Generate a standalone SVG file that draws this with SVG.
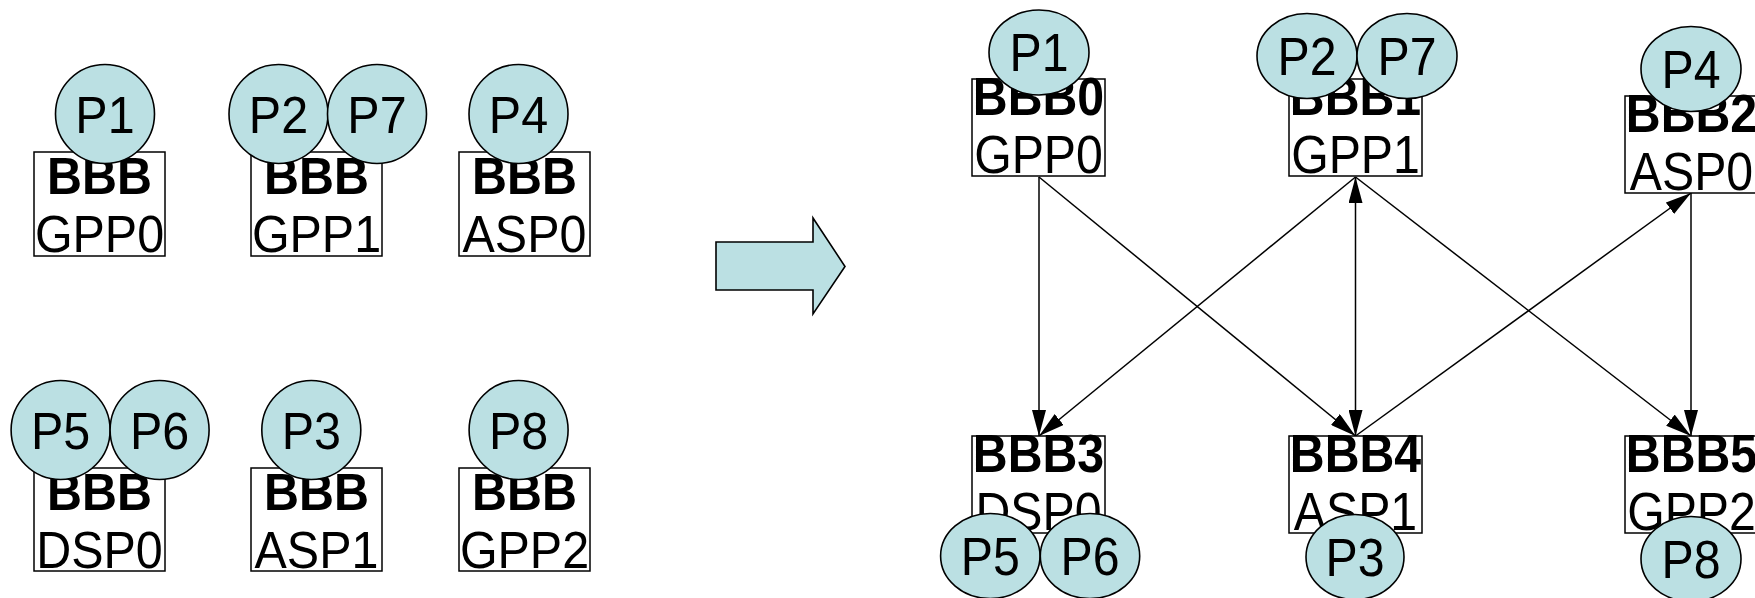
<svg xmlns="http://www.w3.org/2000/svg" width="1755" height="598" viewBox="0 0 1755 598">
  <style>
    .box { fill: #ffffff; stroke: #000000; stroke-width: 1.5; }
    .proc { fill: #BBE0E3; stroke: #000000; stroke-width: 1.6; }
    .t { font-family: "Liberation Sans", Arial, sans-serif; font-size: 51px; fill: #000000; text-anchor: middle; }
    .tr { font-family: "Liberation Sans", Arial, sans-serif; font-size: 53px; fill: #000000; text-anchor: middle; }
    .b { font-weight: bold; }
    .edge { stroke: #000000; stroke-width: 1.5; fill: none; marker-end: url(#ah); }
  </style>
  <defs>
    <marker id="ah" markerUnits="userSpaceOnUse" markerWidth="26" markerHeight="14" refX="26" refY="7" orient="auto-start-reverse">
      <path d="M0,0 L26,7 L0,14 z" fill="#000000"/>
    </marker>
  </defs>
  <rect width="1755" height="598" fill="#ffffff"/>

  <!-- unassigned building blocks, top row (labels slightly condensed) -->
  <g id="left-gpp0">
    <rect class="box" x="34" y="152" width="131" height="104"/>
    <text class="t b" transform="translate(99.5 194) scale(0.95 1)">BBB</text>
    <text class="t" transform="translate(99.5 252) scale(0.95 1)">GPP0</text>
    <circle class="proc" cx="105" cy="114" r="49.5"/>
    <text class="t" transform="translate(105 133) scale(0.95 1)">P1</text>
  </g>
  <g id="left-gpp1">
    <rect class="box" x="251" y="152" width="131" height="104"/>
    <text class="t b" transform="translate(316.5 194) scale(0.95 1)">BBB</text>
    <text class="t" transform="translate(316.5 252) scale(0.95 1)">GPP1</text>
    <circle class="proc" cx="278.5" cy="114" r="49.5"/>
    <text class="t" transform="translate(278.5 133) scale(0.95 1)">P2</text>
    <circle class="proc" cx="377" cy="114" r="49.5"/>
    <text class="t" transform="translate(377 133) scale(0.95 1)">P7</text>
  </g>
  <g id="left-asp0">
    <rect class="box" x="459" y="152" width="131" height="104"/>
    <text class="t b" transform="translate(524.5 194) scale(0.95 1)">BBB</text>
    <text class="t" transform="translate(524.5 252) scale(0.95 1)">ASP0</text>
    <circle class="proc" cx="518.5" cy="114" r="49.5"/>
    <text class="t" transform="translate(518.5 133) scale(0.95 1)">P4</text>
  </g>

  <!-- unassigned building blocks, bottom row -->
  <g id="left-dsp0">
    <rect class="box" x="34" y="468" width="131" height="103"/>
    <text class="t b" transform="translate(99.5 510) scale(0.95 1)">BBB</text>
    <text class="t" transform="translate(99.5 568) scale(0.95 1)">DSP0</text>
    <circle class="proc" cx="60.6" cy="430" r="49.5"/>
    <text class="t" transform="translate(60.6 449) scale(0.95 1)">P5</text>
    <circle class="proc" cx="159.6" cy="430" r="49.5"/>
    <text class="t" transform="translate(159.6 449) scale(0.95 1)">P6</text>
  </g>
  <g id="left-asp1">
    <rect class="box" x="251" y="468" width="131" height="103"/>
    <text class="t b" transform="translate(316.5 510) scale(0.95 1)">BBB</text>
    <text class="t" transform="translate(316.5 568) scale(0.95 1)">ASP1</text>
    <circle class="proc" cx="311.3" cy="430" r="49.5"/>
    <text class="t" transform="translate(311.3 449) scale(0.95 1)">P3</text>
  </g>
  <g id="left-gpp2">
    <rect class="box" x="459" y="468" width="131" height="103"/>
    <text class="t b" transform="translate(524.5 510) scale(0.95 1)">BBB</text>
    <text class="t" transform="translate(524.5 568) scale(0.95 1)">GPP2</text>
    <circle class="proc" cx="518.6" cy="430" r="49.5"/>
    <text class="t" transform="translate(518.6 449) scale(0.95 1)">P8</text>
  </g>

  <!-- transformation arrow -->
  <g id="transform-arrow">
    <polygon class="proc" points="716,242 813,242 813,218 845,266.5 813,314 813,290 716,290"/>
  </g>

  <!-- connections between mapped blocks -->
  <g id="connectors">
    <line class="edge" x1="1039" y1="177" x2="1039" y2="436"/>
    <line class="edge" x1="1039" y1="177" x2="1355.5" y2="436"/>
    <line class="edge" x1="1355.5" y1="177" x2="1039" y2="436"/>
    <line class="edge" x1="1355.5" y1="177" x2="1355.5" y2="436" style="marker-start: url(#ah);"/>
    <line class="edge" x1="1355.5" y1="177" x2="1691" y2="436"/>
    <line class="edge" x1="1355.5" y1="436" x2="1691" y2="193"/>
    <line class="edge" x1="1691" y1="193" x2="1691" y2="436"/>
  </g>

  <!-- mapped blocks, top row -->
  <g id="bbb0">
    <rect class="box" x="972" y="79" width="133" height="97"/>
    <text class="tr b" transform="translate(1038.5 115) scale(0.91 1)">BBB0</text>
    <text class="tr" transform="translate(1038.5 173) scale(0.91 1)">GPP0</text>
    <ellipse class="proc" cx="1039" cy="52.5" rx="50" ry="42.5"/>
    <text class="tr" transform="translate(1039 71) scale(0.91 1)">P1</text>
  </g>
  <g id="bbb1">
    <rect class="box" x="1289" y="79" width="133" height="97"/>
    <text class="tr b" transform="translate(1355.5 115) scale(0.91 1)">BBB1</text>
    <text class="tr" transform="translate(1355.5 173) scale(0.91 1)">GPP1</text>
    <ellipse class="proc" cx="1307" cy="56" rx="50" ry="42.5"/>
    <text class="tr" transform="translate(1307 74.5) scale(0.91 1)">P2</text>
    <ellipse class="proc" cx="1407" cy="56" rx="50" ry="42.5"/>
    <text class="tr" transform="translate(1407 74.5) scale(0.91 1)">P7</text>
  </g>
  <g id="bbb2">
    <rect class="box" x="1625" y="96" width="133" height="97"/>
    <text class="tr b" transform="translate(1691.5 132) scale(0.91 1)">BBB2</text>
    <text class="tr" transform="translate(1691.5 190) scale(0.91 1)">ASP0</text>
    <ellipse class="proc" cx="1691" cy="69" rx="50" ry="42.5"/>
    <text class="tr" transform="translate(1691 87.5) scale(0.91 1)">P4</text>
  </g>

  <!-- mapped blocks, bottom row -->
  <g id="bbb3">
    <rect class="box" x="972" y="436" width="133" height="97"/>
    <text class="tr b" transform="translate(1038.5 472) scale(0.91 1)">BBB3</text>
    <text class="tr" transform="translate(1038.5 530) scale(0.91 1)">DSP0</text>
    <ellipse class="proc" cx="990.3" cy="556" rx="49.7" ry="42.5"/>
    <text class="tr" transform="translate(990.3 574.5) scale(0.91 1)">P5</text>
    <ellipse class="proc" cx="1090" cy="556" rx="49.7" ry="42.5"/>
    <text class="tr" transform="translate(1090 574.5) scale(0.91 1)">P6</text>
  </g>
  <g id="bbb4">
    <rect class="box" x="1289" y="436" width="133" height="97"/>
    <text class="tr b" transform="translate(1355.5 472) scale(0.91 1)">BBB4</text>
    <text class="tr" transform="translate(1355.5 530) scale(0.91 1)">ASP1</text>
    <ellipse class="proc" cx="1355" cy="557" rx="49" ry="42.5"/>
    <text class="tr" transform="translate(1355 575.5) scale(0.91 1)">P3</text>
  </g>
  <g id="bbb5">
    <rect class="box" x="1625" y="436" width="133" height="97"/>
    <text class="tr b" transform="translate(1691.5 472) scale(0.91 1)">BBB5</text>
    <text class="tr" transform="translate(1691.5 530) scale(0.91 1)">GPP2</text>
    <ellipse class="proc" cx="1691" cy="559" rx="50" ry="42.5"/>
    <text class="tr" transform="translate(1691 577.5) scale(0.91 1)">P8</text>
  </g>
</svg>
